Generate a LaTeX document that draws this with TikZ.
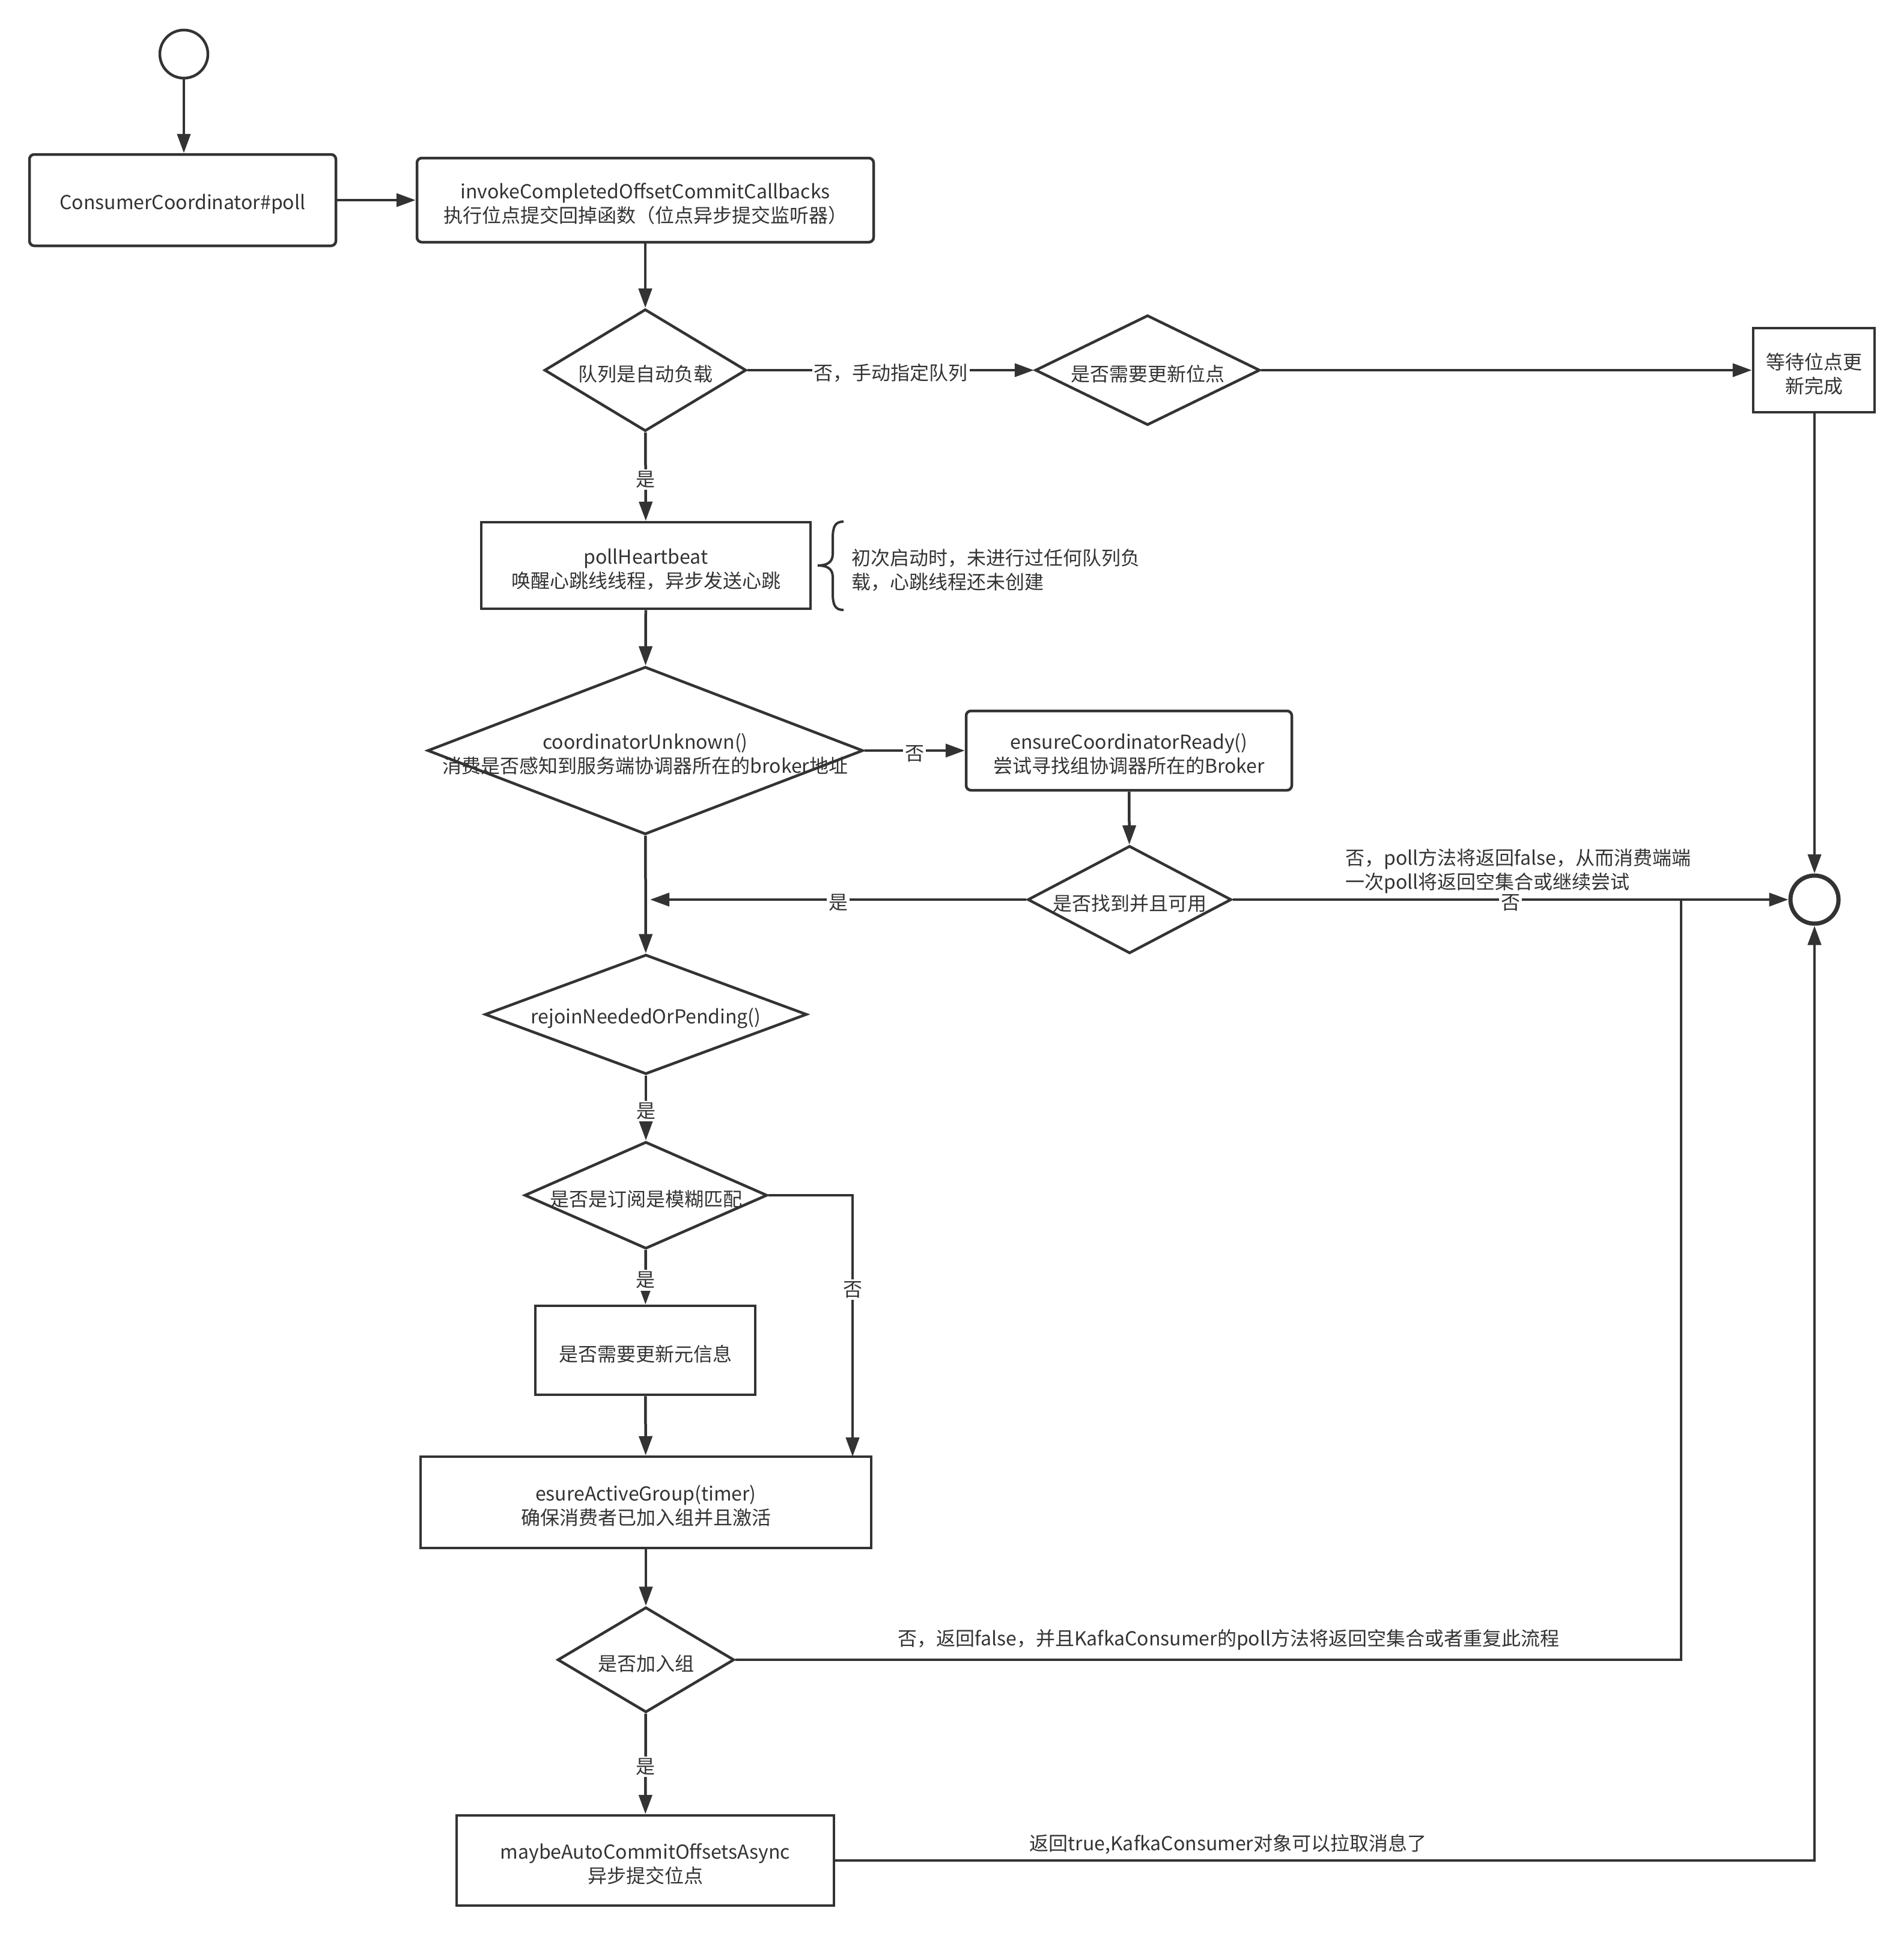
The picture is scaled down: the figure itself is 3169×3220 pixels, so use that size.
\documentclass[tikz,border=0pt]{standalone}
\usepackage{fontspec}
\setmainfont{Noto Sans CJK SC}
\usetikzlibrary{arrows.meta,shapes.geometric}
\definecolor{ink}{HTML}{333333}
\begin{document}
\begin{tikzpicture}[x=1pt,y=-1pt,
  every node/.style={font=\fontsize{32}{40}\selectfont, text=ink, align=center},
  box/.style={draw=ink, line width=4.5pt, rectangle, inner sep=0pt},
  rbox/.style={box, rounded corners=8pt},
  dia/.style={draw=ink, line width=4.5pt, diamond, inner sep=0pt},
  conn/.style={draw=ink, line width=4.5pt, -{Triangle[length=32pt,width=22pt]}},
  plain/.style={draw=ink, line width=4.5pt},
  tx/.style={yshift=-6pt},
  lbl/.style={fill=white, inner sep=3pt, yshift=-5pt},
]
\useasboundingbox (0,0) rectangle (3169,3220);

% shapes
\node[draw=ink, line width=4.5pt, circle, minimum size=80pt, inner sep=0pt] (start) at (306,90) {};
\node[rbox, minimum width=510pt, minimum height=152pt] (poll) at (304,333) {};
\node[rbox, minimum width=760pt, minimum height=140pt] (invoke) at (1074,333) {};
\node[dia, minimum width=336pt, minimum height=203pt] (auto) at (1074,616) {};
\node[dia, minimum width=374pt, minimum height=183pt] (upd) at (1910,616) {};
\node[box, minimum width=202pt, minimum height=140pt] (wait) at (3019,616) {};
\node[box, minimum width=548pt, minimum height=144pt] (hb) at (1075,941) {};
\node[dia, minimum width=725pt, minimum height=279pt] (cu) at (1074,1249) {};
\node[rbox, minimum width=542pt, minimum height=132pt] (ecr) at (1879,1249) {};
\node[dia, minimum width=339pt, minimum height=179pt] (found) at (1880,1497) {};
\node[draw=ink, line width=7pt, circle, minimum size=80pt, inner sep=0pt] (end) at (3020,1497) {};
\node[dia, minimum width=536pt, minimum height=199pt] (rejoin) at (1075,1688) {};
\node[dia, minimum width=404pt, minimum height=178pt] (pat) at (1075,1989) {};
\node[box, minimum width=366pt, minimum height=148pt] (meta) at (1074,2247) {};
\node[box, minimum width=750pt, minimum height=152pt] (active) at (1075,2500) {};
\node[dia, minimum width=294pt, minimum height=175pt] (join) at (1075,2762) {};
\node[box, minimum width=628pt, minimum height=150pt] (commit) at (1074,3096) {};

% texts
\node[tx] (pollt) at (poll) {ConsumerCoordinator\#poll};
\node[tx] (invoket) at (invoke) {invokeCompletedOffsetCommitCallbacks\\执行位点提交回掉函数（位点异步提交监听器）};
\node[tx] (autot) at (auto) {队列是自动负载};
\node[tx] (updt) at (upd) {是否需要更新位点};
\node[tx] (waitt) at (wait) {等待位点更\\新完成};
\node[tx] (hbt) at (hb) {pollHeartbeat\\唤醒心跳线线程，异步发送心跳};
\draw[plain, line width=4pt] (1404,868) .. controls (1390,868) and (1386,876) .. (1386,896) -- (1386,922) .. controls (1386,936) and (1376,941) .. (1361,941) .. controls (1376,941) and (1386,946) .. (1386,960) -- (1386,987) .. controls (1386,1007) and (1390,1015) .. (1404,1015);
\node[anchor=west, align=left] (note1) at (1414,949) {初次启动时，未进行过任何队列负\\载，心跳线程还未创建};
\node[tx] (cut) at (1074,1249) {coordinatorUnknown()\\消费是否感知到服务端协调器所在的broker地址};
\node[tx] (ecrt) at (ecr) {ensureCoordinatorReady()\\尝试寻找组协调器所在的Broker};
\node[tx] (foundt) at (found) {是否找到并且可用};
\node[anchor=west, align=left] (note2) at (2236,1450) {否，poll方法将返回false，从而消费端端\\一次poll将返回空集合或继续尝试};
\node[tx] (rejoint) at (rejoin) {rejoinNeededOrPending()};
\node[tx] (patt) at (pat) {是否是订阅是模糊匹配};
\node[tx] (metat) at (meta) {是否需要更新元信息};
\node[tx] (activet) at (active) {esureActiveGroup(timer)\\确保消费者已加入组并且激活};
\node[tx] (joint) at (join) {是否加入组};
\node (note3) at (2045,2729) {否，返回false，并且KafkaConsumer的poll方法将返回空集合或者重复此流程};
\node[tx] (committ) at (commit) {maybeAutoCommitOffsetsAsync\\异步提交位点};
\node (note4) at (2044,3069) {返回true,KafkaConsumer对象可以拉取消息了};

% helper coordinates
\coordinate (mid1) at (1082,1497);
\coordinate (pr) at (1419,1989);
\coordinate (nr) at (1419,2424);
\coordinate (jr) at (2798,2762);
\coordinate (jt) at (2798,1497);
\coordinate (cr) at (3020,3096);

% connectors
\draw[conn] (start.south) -- (start.south |- poll.north);
\draw[conn] (poll) -- (invoke);
\draw[conn] (invoke) -- (auto);
\draw[conn] (auto) -- node[lbl]{否，手动指定队列} (upd);
\draw[conn] (upd) -- (wait);
\draw[conn] (wait.south -| end) -- (end);
\draw[conn] (auto) -- node[lbl]{是} (hb);
\draw[conn] (hb) -- (cu);
\draw[conn] (cu) -- node[lbl]{否} (ecr);
\draw[conn] (ecr) -- (found);
\draw[conn] (found.west) -- node[lbl]{是} (mid1);
\draw[conn] (found) -- node[lbl]{否} (end);
\draw[conn] (cu) -- (rejoin);
\draw[conn] (rejoin) -- node[lbl]{是} (pat);
\draw[conn] (pat) -- node[lbl]{是} (meta);
\draw[conn] (pat.east) -- (pr) -- node[lbl,pos=0.35]{否} (nr);
\draw[conn] (meta) -- (active);
\draw[conn] (active) -- (join);
\draw[plain] (join.east) -- (jr) -- (jt);
\draw[conn] (join) -- node[lbl]{是} (commit);
\draw[conn] (commit.east) -- (cr) -- (end.south);
\end{tikzpicture}
\end{document}
